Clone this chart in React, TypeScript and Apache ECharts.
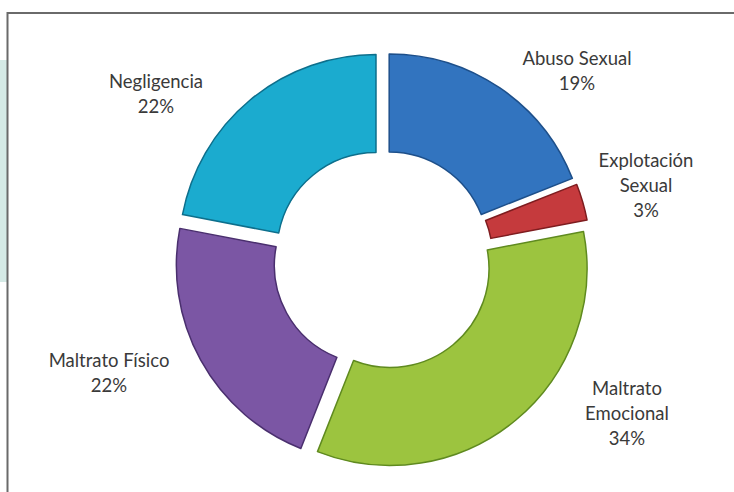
import React, { useEffect, useRef } from "react";
import * as echarts from "echarts";

const categories = ["Abuso Sexual", "Explotación Sexual", "Maltrato Emocional", "Maltrato Físico", "Negligencia"];
const labelTexts = ["Abuso Sexual", "Explotación\nSexual", "Maltrato\nEmocional", "Maltrato Físico", "Negligencia"];
const values = [19, 3, 34, 22, 22];
const colors = ["#3274bf", "#c53a3d", "#9cc43f", "#7b56a4", "#1babcf"];
const borders = ["#1d4f8a", "#7e1c1f", "#5f8a1f", "#4a2f6e", "#0d6f8c"];
const labelPos = [
  [577, 45],
  [646, 147],
  [627, 375],
  [109, 347],
  [156, 68],
];

export default function App() {
  const ref = useRef<HTMLDivElement>(null);
  useEffect(() => {
    if (!ref.current) return;
    const chart = echarts.init(ref.current, null, { renderer: "svg" });
    const total = values.reduce((a, b) => a + b, 0);
    const labels = categories.map((c, i) => ({
      type: "text",
      x: labelPos[i][0],
      y: labelPos[i][1],
      z: 10,
      style: {
        text: labelTexts[i] + "\n" + Math.round((values[i] / total) * 100) + "%",
        fontFamily: "Lato",
        fontSize: 18.5,
        lineHeight: 25,
        fill: "#3a3a3a",
        textAlign: "center",
        textVerticalAlign: "top",
      },
    }));
    chart.setOption({
      animation: false,
      backgroundColor: "#ffffff",
      graphic: [
        { type: "rect", shape: { x: 0, y: 60, width: 7, height: 222 }, style: { fill: "#d5eae6" }, z: 0 },
        {
          type: "rect",
          shape: { x: 7.5, y: 13, width: 740, height: 500 },
          style: { fill: "none", stroke: "#6a6a6a", lineWidth: 2 },
          z: 0,
        },
        ...labels,
      ],
      series: [
        {
          type: "pie",
          center: [383, 260],
          radius: [99, 197],
          startAngle: 90,
          clockwise: true,
          selectedMode: "multiple",
          selectedOffset: 11,
          emphasis: { disabled: true },
          label: { show: false },
          labelLine: { show: false },
          data: categories.map((c, i) => ({
            name: c,
            value: values[i],
            selected: true,
            itemStyle: {
              color: colors[i],
              borderColor: borders[i],
              borderWidth: 1.5,
            },
          })),
        },
      ],
    });
    return () => chart.dispose();
  }, []);
  return <div ref={ref} style={{ position: "fixed", left: 0, top: 0, width: 734, height: 492 }} />;
}
